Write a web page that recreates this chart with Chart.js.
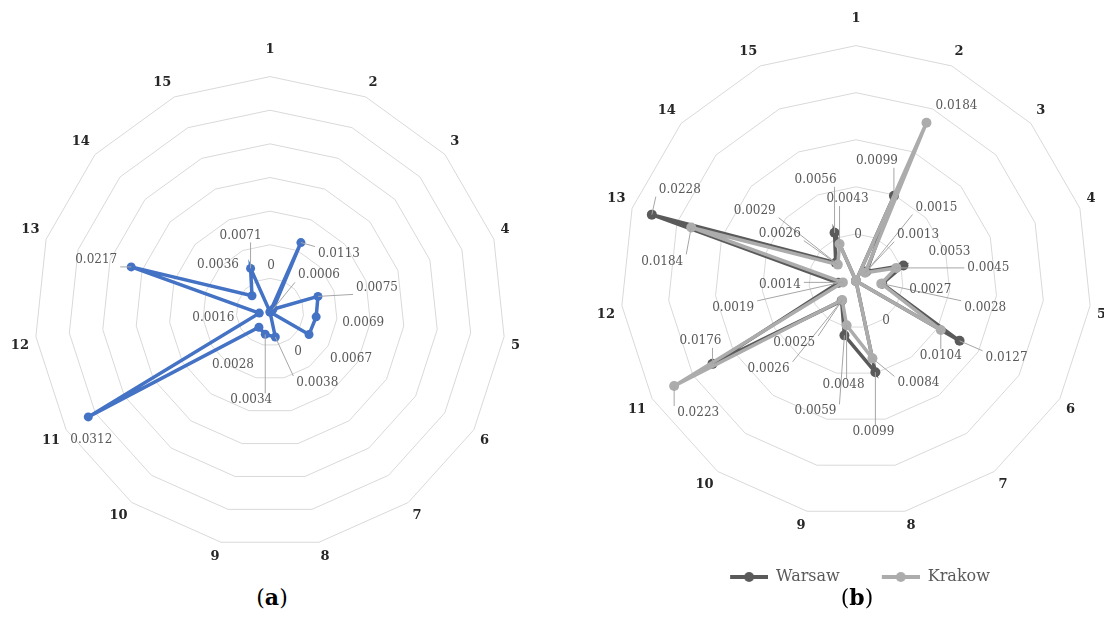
<!DOCTYPE html>
<html>
<head>
<meta charset="utf-8">
<script src="https://cdn.jsdelivr.net/npm/chart.js@4.4.1/dist/chart.umd.min.js"></script>
<style>
  html, body { margin: 0; padding: 0; background: #fff; width: 1104px; height: 628px; overflow: hidden; }
  .panel { position: absolute; }
  #wrapA { left: -4px; top: 34px; width: 540px; height: 540px; }
  #wrapB { left: 582px; top: 3px; width: 540px; height: 592px; }
  .caption { position: absolute; top: 584px; width: 60px; text-align: center; font-family: 'DejaVu Serif', serif; font-size: 22px; color: #000; }
</style>
</head>
<body>
<div class="panel" id="wrapA"><canvas id="chartA"></canvas></div>
<div class="panel" id="wrapB"><canvas id="chartB"></canvas></div>
<div class="caption" style="left:242px">(<b>a</b>)</div>
<div class="caption" style="left:827px">(<b>b</b>)</div>
<script>
// Axis categories (15 indicators)
const categories = ['1', '2', '3', '4', '5', '6', '7', '8', '9', '10', '11', '12', '13', '14', '15'];

// Panel (a) values
const panelAValues = [0, 0.0113, 0.0006, 0.0075, 0.0069, 0.0067, 0, 0.0038, 0.0034, 0.0028, 0.0312, 0.0016, 0.0217, 0.0036, 0.0071];

// Panel (b) values
const warsawValues = [0, 0.0099, 0.0015, 0.0053, 0.0028, 0.0127, 0, 0.0099, 0.0059, 0.0026, 0.0176, 0.0019, 0.0228, 0.0029, 0.0056];
const krakowValues = [0, 0.0184, 0.0013, 0.0045, 0.0027, 0.0104, 0, 0.0084, 0.0048, 0.0025, 0.0223, 0.0014, 0.0184, 0.0026, 0.0043];

// Value axis limits
const panelAMax = 0.035;
const panelBMax = 0.025;
const ringStep = 0.005;

// Data label placement: [dx, dy, leader] relative to each point
const panelAOffsets = [
    [1, -46, 0], [38, 11, 1], [46, -34, 1], [59, -9, 1], [47, 6, 0],
    [42, 24, 0], [28, 40, 0], [42, 46, 1], [-14, 66, 1], [-26, 38, 0],
    [3, 23, 0], [-46, 5, 0], [-35, -7, 1], [-34, -31, 0], [-10, -33, 1]
];
const warsawOffsets = [
    [2, -46, 0], [-17, -35, 1], [70, -64, 1], [46, -14, 0], [103, 24, 1],
    [47, 17, 1], [30, 40, 0], [-2, 60, 1], [-29, 76, 1], [-73, 68, 1],
    [-12, -23, 1], [-105, 25, 1], [28, -25, 1], [-81, -52, 1], [-19, -53, 1]
];
const krakowOffsets = [
    null, [30, -17, 0], [53, -38, 1], [92, 0, 1], [49, 6, 0],
    [0, 26, 1], null, [46, 25, 1], [-3, 60, 1], [-48, 43, 1],
    [24, 27, 1], [-63, 2, 1], [-29, 34, 1], [-58, -31, 1], [8, -45, 1]
];

const serif = "'DejaVu Serif', serif";

function formatValue(v) {
    return v === 0 ? '0' : v.toFixed(4);
}

// Draws the value labels with optional leader lines
const valueLabels = {
    id: 'valueLabels',
    afterDatasetsDraw(chart) {
        const ctx = chart.ctx;
        ctx.save();
        ctx.font = '12px ' + serif;
        ctx.textAlign = 'center';
        ctx.textBaseline = 'middle';
        chart.data.datasets.forEach((ds, di) => {
            const meta = chart.getDatasetMeta(di);
            const offsets = ds.labelOffsets;
            meta.data.forEach((pt, i) => {
                const o = offsets[i];
                if (!o) return;
                const text = formatValue(ds.data[i]);
                const lx = pt.x + o[0];
                const ly = pt.y + o[1];
                if (o[2]) {
                    const w = ctx.measureText(text).width;
                    const bx = Math.min(Math.max(pt.x, lx - w / 2 - 3), lx + w / 2 + 3);
                    const by = Math.min(Math.max(pt.y, ly - 7), ly + 7);
                    ctx.strokeStyle = '#a6a6a6';
                    ctx.lineWidth = 1;
                    ctx.beginPath();
                    ctx.moveTo(bx, by);
                    ctx.lineTo(pt.x, pt.y);
                    ctx.stroke();
                }
                ctx.fillStyle = '#595959';
                ctx.fillText(text, lx, ly);
            });
        });
        ctx.restore();
    }
};

function radarScale(max) {
    return {
        min: 0,
        max: max,
        ticks: { display: false, stepSize: ringStep },
        grid: { color: '#d9d9d9', lineWidth: 1 },
        angleLines: { display: false },
        pointLabels: {
            color: '#262626',
            // the top label sits further out in the original
            padding: (c) => c.index === 0 ? 19 : 7,
            font: { family: serif, size: 13, weight: 'bold' }
        }
    };
}

// Legend marker: line with a dot, left margin gives the gap between items
function legendMarker(color) {
    const c = document.createElement('canvas');
    c.width = 54;
    c.height = 12;
    const g = c.getContext('2d');
    g.strokeStyle = color;
    g.lineWidth = 4;
    g.beginPath();
    g.moveTo(16, 6);
    g.lineTo(54, 6);
    g.stroke();
    g.fillStyle = color;
    g.beginPath();
    g.arc(35, 6, 5, 0, Math.PI * 2);
    g.fill();
    return c;
}

new Chart(document.getElementById('chartA'), {
    type: 'radar',
    data: {
        labels: categories,
        datasets: [{
            label: 'Series 1',
            data: panelAValues,
            labelOffsets: panelAOffsets,
            borderColor: '#4472c4',
            backgroundColor: '#4472c4',
            borderWidth: 3.5,
            pointRadius: 4.5,
            pointBorderWidth: 0,
            fill: false
        }]
    },
    options: {
        responsive: true,
        maintainAspectRatio: false,
        animation: false,
        scales: { r: radarScale(panelAMax) },
        plugins: { legend: { display: false }, tooltip: { enabled: false } }
    },
    plugins: [valueLabels]
});

const warsawColor = '#5a5a5a';
const krakowColor = '#acacac';

new Chart(document.getElementById('chartB'), {
    type: 'radar',
    data: {
        labels: categories,
        datasets: [{
            label: 'Warsaw',
            data: warsawValues,
            labelOffsets: warsawOffsets,
            borderColor: warsawColor,
            backgroundColor: warsawColor,
            borderWidth: 3.5,
            pointRadius: 5,
            pointBorderWidth: 0,
            fill: false,
            order: 1
        }, {
            label: 'Krakow',
            data: krakowValues,
            labelOffsets: krakowOffsets,
            borderColor: krakowColor,
            backgroundColor: krakowColor,
            borderWidth: 3.5,
            pointRadius: 5,
            pointBorderWidth: 0,
            fill: false,
            order: 0
        }]
    },
    options: {
        responsive: true,
        maintainAspectRatio: false,
        animation: false,
        scales: { r: radarScale(panelBMax) },
        plugins: {
            tooltip: { enabled: false },
            legend: {
                position: 'bottom',
                labels: {
                    usePointStyle: true,
                    pointStyleWidth: 54,
                    padding: 26,
                    color: '#595959',
                    font: { family: serif, size: 16 },
                    sort: (a, b) => a.datasetIndex - b.datasetIndex,
                    generateLabels(chart) {
                        const items = Chart.defaults.plugins.legend.labels.generateLabels(chart);
                        items.forEach(item => {
                            const ds = chart.data.datasets[item.datasetIndex];
                            item.pointStyle = legendMarker(ds.borderColor);
                        });
                        return items;
                    }
                }
            }
        }
    },
    plugins: [valueLabels]
});
</script>
</body>
</html>
